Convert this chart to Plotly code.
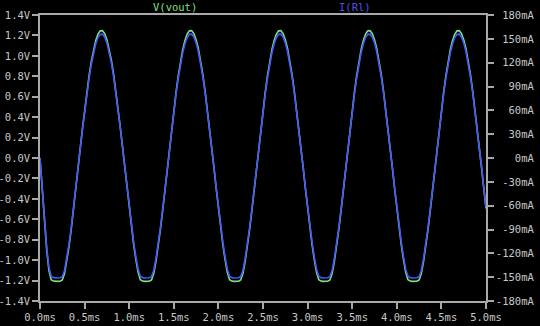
import numpy as np
import plotly.graph_objects as go

# time axis, ms (0 .. 5 ms, 0.025 ms steps)
t_ms = np.linspace(0.0, 5.0, 201)

# V(vout) in volts
vout = [
    0.000, -0.320, -0.620, -0.900, -1.100, -1.191, -1.205, -1.208, -1.208, -1.206,
    -1.194, -1.132, -1.012, -0.867, -0.700, -0.517, -0.320, -0.116, 0.086, 0.280,
    0.468, 0.643, 0.803, 0.943, 1.060, 1.150, 1.213, 1.245, 1.247, 1.218,
    1.159, 1.072, 0.958, 0.821, 0.663, 0.489, 0.303, 0.110, -0.091, -0.296,
    -0.494, -0.679, -0.848, -0.996, -1.119, -1.191, -1.205, -1.208, -1.208, -1.206,
    -1.194, -1.132, -1.012, -0.867, -0.700, -0.517, -0.320, -0.116, 0.086, 0.280,
    0.468, 0.643, 0.803, 0.943, 1.060, 1.150, 1.213, 1.245, 1.247, 1.218,
    1.159, 1.072, 0.958, 0.821, 0.663, 0.489, 0.303, 0.110, -0.091, -0.296,
    -0.494, -0.679, -0.848, -0.996, -1.119, -1.191, -1.205, -1.208, -1.208, -1.206,
    -1.194, -1.132, -1.012, -0.867, -0.700, -0.517, -0.320, -0.116, 0.086, 0.280,
    0.468, 0.643, 0.803, 0.943, 1.060, 1.150, 1.213, 1.245, 1.247, 1.218,
    1.159, 1.072, 0.958, 0.821, 0.663, 0.489, 0.303, 0.110, -0.091, -0.296,
    -0.494, -0.679, -0.848, -0.996, -1.119, -1.191, -1.205, -1.208, -1.208, -1.206,
    -1.194, -1.132, -1.012, -0.867, -0.700, -0.517, -0.320, -0.116, 0.086, 0.280,
    0.468, 0.643, 0.803, 0.943, 1.060, 1.150, 1.213, 1.245, 1.247, 1.218,
    1.159, 1.072, 0.958, 0.821, 0.663, 0.489, 0.303, 0.110, -0.091, -0.296,
    -0.494, -0.679, -0.848, -0.996, -1.119, -1.191, -1.205, -1.208, -1.208, -1.206,
    -1.194, -1.132, -1.012, -0.867, -0.700, -0.517, -0.320, -0.116, 0.086, 0.280,
    0.468, 0.643, 0.803, 0.943, 1.060, 1.150, 1.213, 1.245, 1.247, 1.218,
    1.159, 1.072, 0.958, 0.821, 0.663, 0.489, 0.303, 0.110, -0.091, -0.296,
    -0.494,
]

# I(Rl) in mA
i_rl = [
    0.0, -40.0, -77.5, -112.5, -137.5, -148.9, -150.6, -151.0, -151.0, -150.8,
    -149.3, -141.5, -126.5, -108.4, -87.5, -64.6, -40.0, -14.5, 10.8, 35.0,
    58.5, 80.4, 100.4, 117.9, 132.5, 143.8, 151.6, 155.6, 155.9, 152.3,
    144.9, 134.0, 119.8, 102.6, 82.9, 61.1, 37.9, 13.8, -11.4, -37.0,
    -61.8, -84.9, -106.0, -124.5, -139.9, -148.9, -150.6, -151.0, -151.0, -150.8,
    -149.3, -141.5, -126.5, -108.4, -87.5, -64.6, -40.0, -14.5, 10.8, 35.0,
    58.5, 80.4, 100.4, 117.9, 132.5, 143.8, 151.6, 155.6, 155.9, 152.3,
    144.9, 134.0, 119.8, 102.6, 82.9, 61.1, 37.9, 13.8, -11.4, -37.0,
    -61.8, -84.9, -106.0, -124.5, -139.9, -148.9, -150.6, -151.0, -151.0, -150.8,
    -149.3, -141.5, -126.5, -108.4, -87.5, -64.6, -40.0, -14.5, 10.8, 35.0,
    58.5, 80.4, 100.4, 117.9, 132.5, 143.8, 151.6, 155.6, 155.9, 152.3,
    144.9, 134.0, 119.8, 102.6, 82.9, 61.1, 37.9, 13.8, -11.4, -37.0,
    -61.8, -84.9, -106.0, -124.5, -139.9, -148.9, -150.6, -151.0, -151.0, -150.8,
    -149.3, -141.5, -126.5, -108.4, -87.5, -64.6, -40.0, -14.5, 10.8, 35.0,
    58.5, 80.4, 100.4, 117.9, 132.5, 143.8, 151.6, 155.6, 155.9, 152.3,
    144.9, 134.0, 119.8, 102.6, 82.9, 61.1, 37.9, 13.8, -11.4, -37.0,
    -61.8, -84.9, -106.0, -124.5, -139.9, -148.9, -150.6, -151.0, -151.0, -150.8,
    -149.3, -141.5, -126.5, -108.4, -87.5, -64.6, -40.0, -14.5, 10.8, 35.0,
    58.5, 80.4, 100.4, 117.9, 132.5, 143.8, 151.6, 155.6, 155.9, 152.3,
    144.9, 134.0, 119.8, 102.6, 82.9, 61.1, 37.9, 13.8, -11.4, -37.0,
    -61.8,
]

x_ticks = [0.0, 0.5, 1.0, 1.5, 2.0, 2.5, 3.0, 3.5, 4.0, 4.5, 5.0]
x_labels = ["0.0ms", "0.5ms", "1.0ms", "1.5ms", "2.0ms", "2.5ms",
            "3.0ms", "3.5ms", "4.0ms", "4.5ms", "5.0ms"]
v_ticks = [1.4, 1.2, 1.0, 0.8, 0.6, 0.4, 0.2, 0.0, -0.2, -0.4, -0.6, -0.8, -1.0, -1.2, -1.4]
v_labels = ["1.4V", "1.2V", "1.0V", "0.8V", "0.6V", "0.4V", "0.2V", "0.0V",
            "-0.2V", "-0.4V", "-0.6V", "-0.8V", "-1.0V", "-1.2V", "-1.4V"]
i_ticks = [180, 150, 120, 90, 60, 30, 0, -30, -60, -90, -120, -150, -180]
i_labels = ["180mA", "150mA", "120mA", "90mA", "60mA", "30mA", "0mA",
            "-30mA", "-60mA", "-90mA", "-120mA", "-150mA", "-180mA"]

NB = "\u00a0"
i_labels_padded = [NB * (6 - len(s)) + s for s in i_labels]

GREEN = "#7fe07f"
BLUE = "#4656ff"
AXIS = "#a8a8a8"
TXT = "#c8c8c8"
FONT = "DejaVu Sans Mono"
FS = 10.5

axis_common = dict(showgrid=False, zeroline=False, showline=True, linecolor=AXIS,
                   linewidth=1.5, ticks="outside", ticklen=6, tickcolor=AXIS,
                   tickwidth=1.5, automargin=False,
                   tickfont=dict(family=FONT, size=FS, color=TXT))

fig = go.Figure()
fig.add_trace(go.Scatter(x=t_ms, y=vout, mode="lines", name="V(vout)",
                         line=dict(color=GREEN, width=1.6), yaxis="y"))
fig.add_trace(go.Scatter(x=t_ms, y=i_rl, mode="lines", name="I(Rl)",
                         line=dict(color=BLUE, width=1.6), yaxis="y2"))

fig.update_layout(
    width=540, height=326, autosize=False,
    margin=dict(l=40, r=54, t=15, b=25),
    paper_bgcolor="#000000", plot_bgcolor="#000000",
    showlegend=False,
    font=dict(family=FONT, size=FS, color=TXT),
    xaxis=dict(range=[0, 5], tickmode="array", tickvals=x_ticks, ticktext=x_labels,
               mirror=True, **axis_common),
    yaxis=dict(range=[-1.4, 1.4], tickmode="array", tickvals=v_ticks, ticktext=v_labels,
               mirror=True, **axis_common),
    yaxis2=dict(range=[-180, 180], overlaying="y", side="right", tickmode="array",
                tickvals=i_ticks, ticktext=i_labels_padded, **axis_common),
    annotations=[
        dict(text="V(vout)", xref="paper", yref="paper", x=0.248, y=1.0, yanchor="bottom",
             yshift=0, showarrow=False, font=dict(family=FONT, size=FS, color=GREEN)),
        dict(text="I(Rl)", xref="paper", yref="paper", x=0.746, y=1.0, yanchor="bottom",
             yshift=0, showarrow=False, font=dict(family=FONT, size=FS, color="#5050e8")),
    ],
)

fig.write_html("out.html")
